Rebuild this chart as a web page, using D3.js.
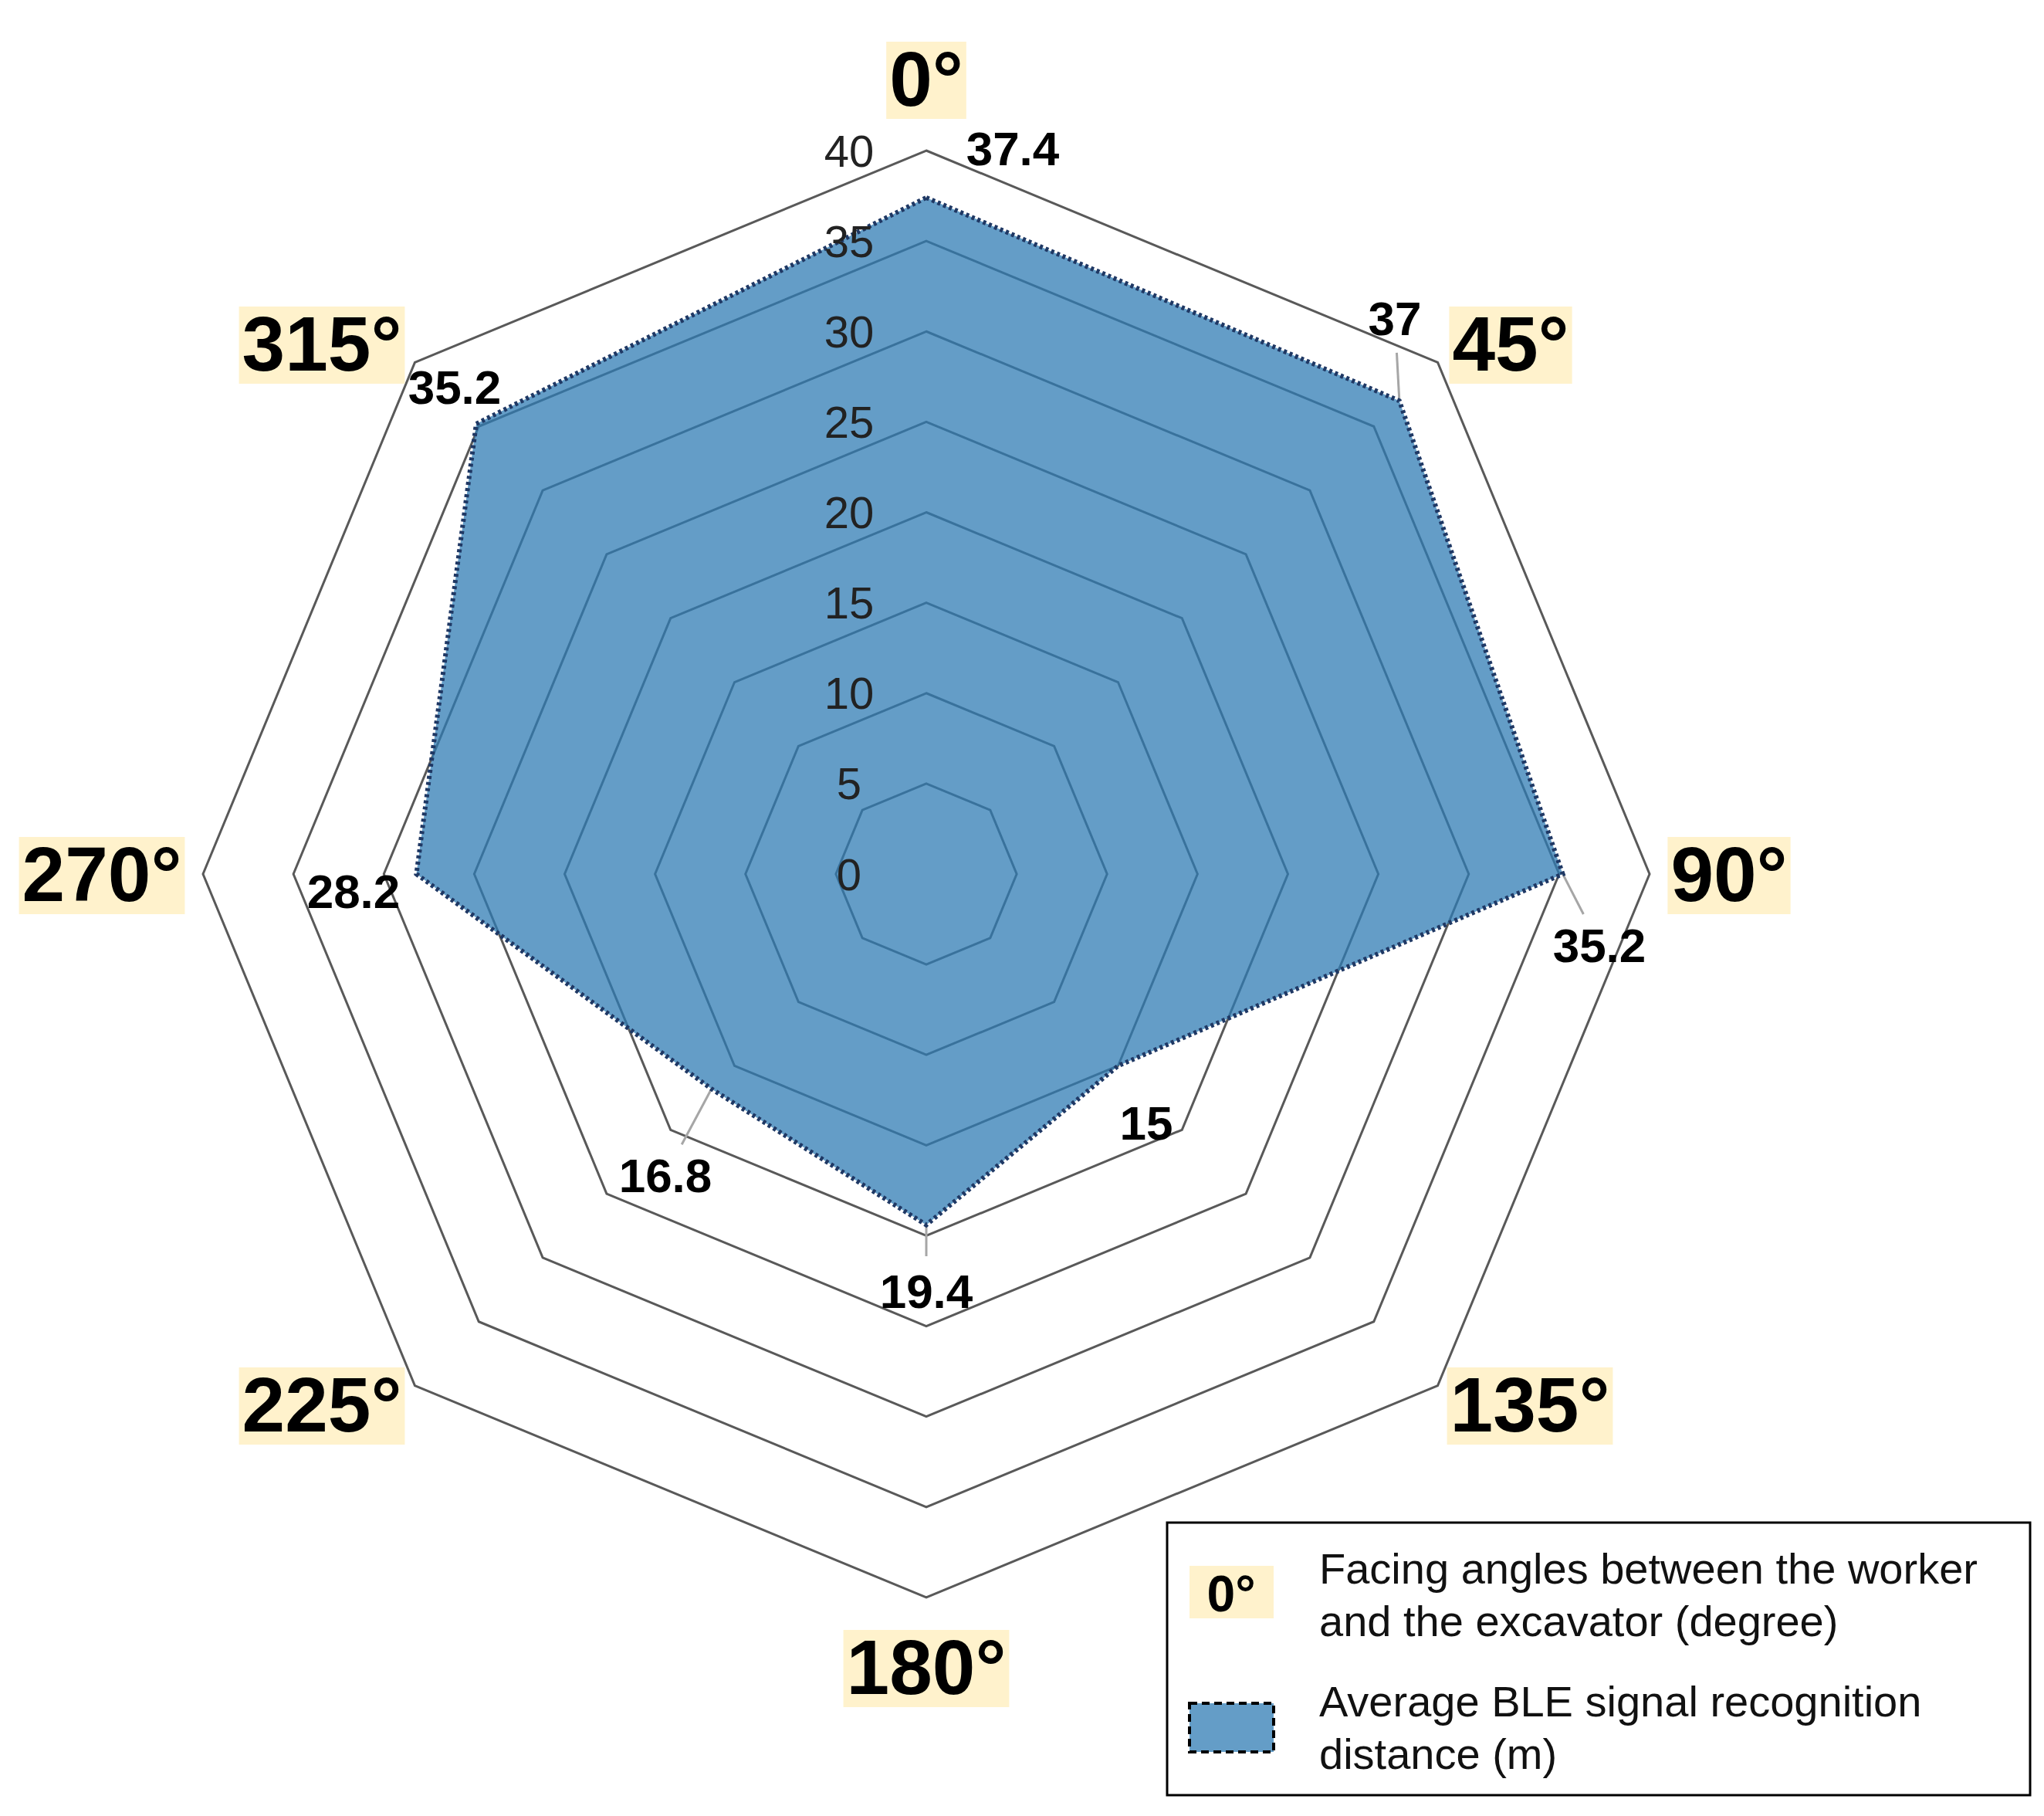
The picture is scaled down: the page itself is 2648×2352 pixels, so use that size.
<!DOCTYPE html><html><head><meta charset="utf-8"><script src="https://cdn.jsdelivr.net/npm/d3@7"></script>
<style>body{margin:0;background:#fff}</style></head><body><svg id="c" width="2648" height="2352"></svg>
<script>
const angles=["0°","45°","90°","135°","180°","225°","270°","315°"];
const values=[37.4,37,35.2,15,19.4,16.8,28.2,35.2];
const ticks=[0,5,10,15,20,25,30,35,40];
const valueLabelPos=[[1312,192],[1807,412],[2072,1224],[1485,1454],[1200,1672],[862,1522],[458,1154],[589,501]];
const angleLabelPos=[[1200,102],[1957,445],[2240,1132],[1982,1819],[1200,2159],[417,1819],[132,1132],[417,445]];
const leaders=[1,2,4,5];
const cx=1200,cy=1132;
const svg=d3.select("#c");
const r=d3.scaleLinear().domain([0,40]).range([0,937]);
const ang=d3.scaleLinear().domain([0,8]).range([0,2*Math.PI]);
const pt=(i,v)=>[cx+r(v)*Math.sin(ang(i)),cy-r(v)*Math.cos(ang(i))];
const F="'Liberation Sans Narrow','Liberation Sans',Arial,sans-serif";
const line=d3.line().curve(d3.curveLinearClosed);
// grid
ticks.slice(1).forEach(t=>{
  svg.append("path").attr("d",line(d3.range(8).map(i=>pt(i,t)))).attr("fill","none").attr("stroke","#595959").attr("stroke-width",3);
});
// leader lines
leaders.forEach(i=>{
  const a=pt(i,values[i]);const b=valueLabelPos[i];
  const dx=b[0]-a[0],dy=b[1]-a[1],L=Math.hypot(dx,dy),k=(L-45)/L;
  svg.append("line").attr("x1",a[0]).attr("y1",a[1]).attr("x2",a[0]+dx*k).attr("y2",a[1]+dy*k).attr("stroke","#a6a6a6").attr("stroke-width",3);
});
// data
svg.append("path").attr("d",line(values.map((v,i)=>pt(i,v)))).attr("fill","#2e7bb3").attr("fill-opacity",0.74)
  .attr("stroke","#1f3864").attr("stroke-width",6).attr("stroke-dasharray","4,4");
// tick labels
ticks.forEach(t=>{
  svg.append("text").attr("x",1100).attr("y",cy-r(t)).attr("dominant-baseline","central").attr("text-anchor","middle")
   .attr("font-family",F).attr("font-size",58).attr("fill","#222").text(t);
});
// value labels
values.forEach((v,i)=>{
  svg.append("text").attr("x",valueLabelPos[i][0]).attr("y",valueLabelPos[i][1]).attr("dominant-baseline","central").attr("text-anchor","middle")
   .attr("font-family",F).attr("font-size",62).attr("font-weight","bold").attr("fill","#000").text(v);
});
// angle labels
function boxLabel(x,y,txt,fs){
  const g=svg.append("g");
  const t=g.append("text").attr("x",x).attr("y",y).attr("dominant-baseline","central").attr("text-anchor","middle")
   .attr("font-family",F).attr("font-size",fs).attr("font-weight","bold").attr("fill","#000").text(txt);
  const b=t.node().getBBox();
  g.insert("rect","text").attr("x",b.x-4).attr("y",b.y+fs*0.08).attr("width",b.width+8).attr("height",b.height-fs*0.12).attr("fill","#fff2cc");
}
angles.forEach((a,i)=>boxLabel(angleLabelPos[i][0],angleLabelPos[i][1],a,100));
// legend
svg.append("rect").attr("x",1512).attr("y",1972).attr("width",1118).attr("height",353).attr("fill","#fff").attr("stroke","#000").attr("stroke-width",3);
svg.append("rect").attr("x",1541).attr("y",2028).attr("width",109).attr("height",68).attr("fill","#fff2cc");
svg.append("text").attr("x",1595).attr("y",2064).attr("dominant-baseline","central").attr("text-anchor","middle").attr("font-family",F).attr("font-size",66).attr("font-weight","bold").text(angles[0]);
svg.append("rect").attr("x",1541).attr("y",2206).attr("width",109).attr("height",63).attr("fill","#2e7bb3").attr("fill-opacity",0.74).attr("stroke","#000").attr("stroke-width",4).attr("stroke-dasharray","10,6");
const leg=[["Facing angles between the worker",2031],["and the excavator (degree)",2099],["Average BLE signal recognition",2203],["distance (m)",2271]];
leg.forEach(([t,y])=>svg.append("text").attr("x",1709).attr("y",y).attr("dominant-baseline","central").attr("font-family","'Liberation Sans',Arial,sans-serif").attr("font-size",56).attr("fill","#111").text(t));
</script></body></html>
